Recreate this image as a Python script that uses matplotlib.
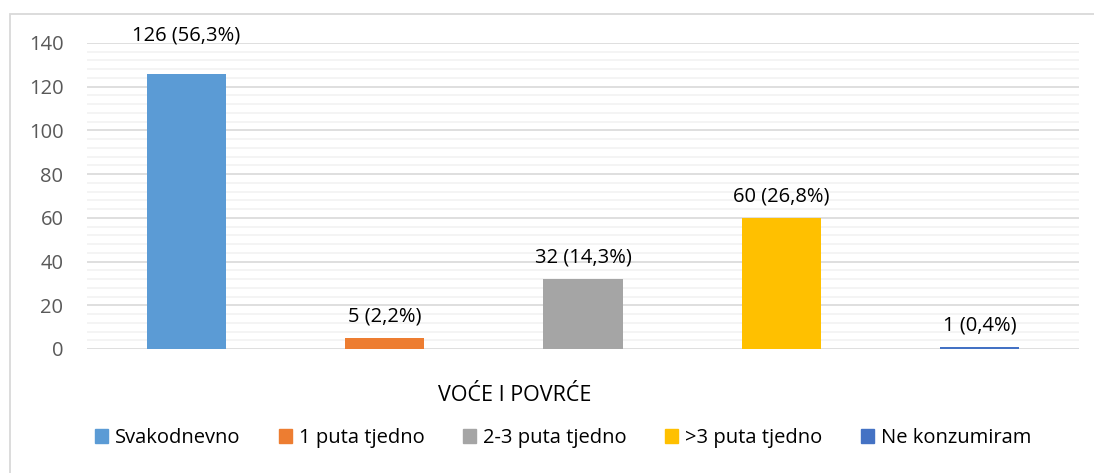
import matplotlib
matplotlib.use('Agg')
import matplotlib.pyplot as plt
import matplotlib.transforms as mtransforms
from matplotlib.ticker import MultipleLocator
from matplotlib.patches import Rectangle

plt.rcParams['font.family'] = ['Open Sans', 'DejaVu Sans']

# ── podaci ──
categories = ['Svakodnevno', '1 puta tjedno', '2-3 puta tjedno', '>3 puta tjedno', 'Ne konzumiram']
counts = [126, 5, 32, 60, 1]
percents = ['56,3', '2,2', '14,3', '26,8', '0,4']
colors = ['#5B9BD5', '#ED7D31', '#A5A5A5', '#FFC000', '#4472C4']
group_label = 'VOĆE I POVRĆE'

FS = 14.5

fig = plt.figure(figsize=(10.94, 4.73), dpi=100)
fig.patch.set_facecolor('white')

# okvir grafikona (vidi se samo lijevi i gornji rub)
fig.add_artist(Rectangle((10 / 1094, -0.05), 1.2, (473 - 14) / 473 + 0.05,
                         transform=fig.transFigure, facecolor='none',
                         edgecolor='#D9D9D9', linewidth=1.3))

ax = fig.add_axes([87 / 1094, 124 / 473, 992 / 1094, 306 / 473])
x = list(range(len(counts)))
ax.bar(x, counts, width=0.4, color=colors, zorder=3)
handles = [Rectangle((0, 0), 1, 1, color=c) for c in colors]

ax.set_xlim(-0.5, len(counts) - 0.5)
ax.set_ylim(0, 140)
ax.yaxis.set_major_locator(MultipleLocator(20))
ax.yaxis.set_minor_locator(MultipleLocator(4))
ax.grid(axis='y', which='major', color='#D9D9D9', linewidth=1.2, zorder=0)
ax.grid(axis='y', which='minor', color='#F2F2F2', linewidth=1.2, zorder=0)
ax.set_axisbelow(True)
for s in ax.spines.values():
    s.set_visible(False)
ax.set_xticks([])
ax.tick_params(axis='y', which='both', length=0, labelsize=FS, labelcolor='#595959', pad=17)
ax.tick_params(axis='y', which='minor', labelleft=False)

# oznake podataka (najviša je pomaknuta iznad ruba područja crtanja)
top_tr = mtransforms.blended_transform_factory(ax.transData, fig.transFigure)
for i, (v, p) in enumerate(zip(counts, percents)):
    txt = f'{v} ({p}%)'
    if v > 120:
        ax.text(i, 1 - 36 / 473, txt, transform=top_tr, ha='center', va='center',
                fontsize=FS, color='#000000', clip_on=False)
    else:
        ax.annotate(txt, (i, v), xytext=(0, 8), textcoords='offset points', ha='center',
                    va='bottom', fontsize=FS, color='#000000')

fig.text(515 / 1094, 1 - 395 / 473, group_label, ha='center', va='center',
         fontsize=15.5, color='#000000')

fig.legend(handles=handles, labels=categories, loc='center',
           bbox_to_anchor=(563 / 1094, 1 - 438 / 473), ncol=5, frameon=False,
           fontsize=FS, handlelength=0.65, handleheight=0.65, handletextpad=0.35,
           columnspacing=1.9)

plt.savefig('out.png', dpi=100, facecolor='white')
